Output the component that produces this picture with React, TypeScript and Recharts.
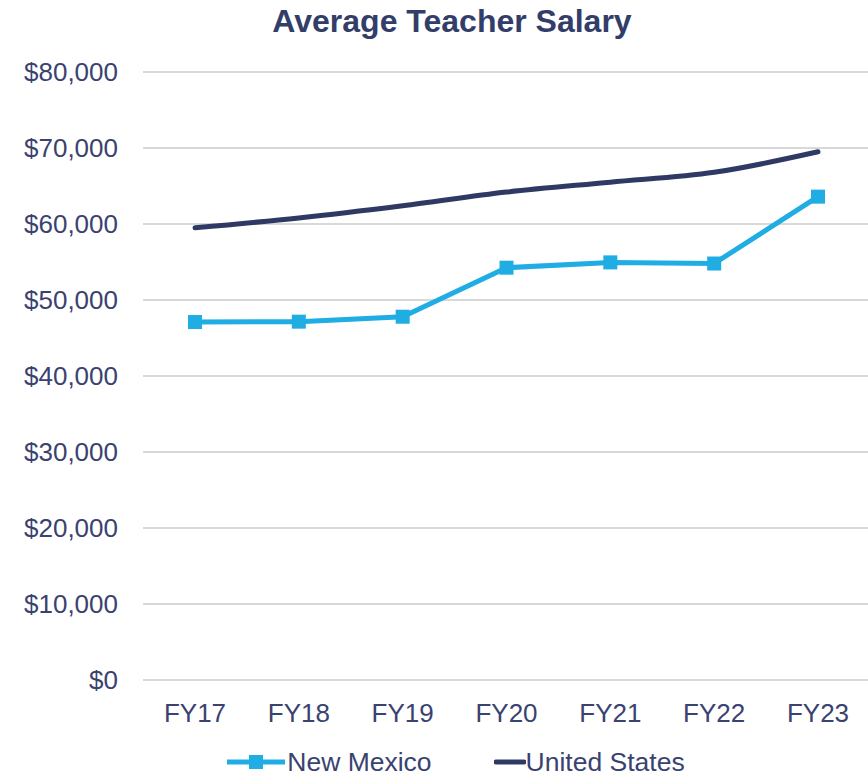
import React from 'react';
import { LineChart, Line, XAxis, YAxis, CartesianGrid, Legend } from 'recharts';

const categories = ['FY17', 'FY18', 'FY19', 'FY20', 'FY21', 'FY22', 'FY23'];
const newMexico = [47100, 47150, 47800, 54250, 54950, 54800, 63600];
const unitedStates = [59500, 60800, 62400, 64200, 65500, 66800, 69500];
const yTicks = [0, 10000, 20000, 30000, 40000, 50000, 60000, 70000, 80000];

const data = categories.map((c, i) => ({ name: c, nm: newMexico[i], us: unitedStates[i] }));

const NM_COLOR = '#1fade4';
const US_COLOR = '#2f3a64';
const TEXT_COLOR = '#3a4270';
const FONT = '"Liberation Sans", Arial, sans-serif';

const fmt = (v: number) => '$' + v.toLocaleString('en-US');

const SquareDot = (props: any) => {
  const { cx, cy } = props;
  if (cx == null || cy == null) return null;
  return <rect x={cx - 7} y={cy - 7} width={14} height={14} fill={NM_COLOR} />;
};

const LegendContent = () => (
  <div style={{ position: 'relative', top: 4, display: 'flex', justifyContent: 'center', alignItems: 'center', height: 40, lineHeight: '30px', fontFamily: FONT, fontSize: 26.5, color: TEXT_COLOR, paddingLeft: 42 }}>
    <svg width={60} height={20} style={{ marginRight: 0 }}>
      <line x1={0} y1={10} x2={58} y2={10} stroke={NM_COLOR} strokeWidth={5} />
      <rect x={22} y={3} width={14} height={14} fill={NM_COLOR} />
    </svg>
    <span style={{ marginRight: 62 }}>New Mexico</span>
    <svg width={32} height={20}>
      <line x1={2} y1={10} x2={30} y2={10} stroke={US_COLOR} strokeWidth={5} strokeLinecap="round" />
    </svg>
    <span>United States</span>
  </div>
);

export default function App() {
  return (
    <div style={{ position: 'absolute', left: 0, top: 0, width: 868, height: 778, background: '#fff', overflow: 'hidden' }}>
      <div style={{ position: 'absolute', left: 0, width: 904, top: 3, textAlign: 'center', fontFamily: FONT, fontWeight: 'bold', fontSize: 32, color: '#323e69' }}>
        Average Teacher Salary
      </div>
      <LineChart width={870} height={778} data={data} margin={{ top: 72, right: 0, left: 0, bottom: 0 }}>
        <CartesianGrid vertical={false} stroke="#d9d9d9" strokeWidth={2} />
        <XAxis
          dataKey="name"
          height={58}
          padding={{ left: 52, right: 52 }}
          tickLine={false}
          tickSize={0}
          tickMargin={24}
          axisLine={{ stroke: '#d9d9d9', strokeWidth: 2 }}
          tick={{ fill: TEXT_COLOR, fontSize: 26, fontFamily: FONT }}
        />
        <YAxis
          width={143}
          domain={[0, 80000]}
          ticks={yTicks}
          tickFormatter={fmt}
          axisLine={false}
          tickLine={false}
          tickSize={0}
          tickMargin={25}
          tick={{ fill: TEXT_COLOR, fontSize: 26, fontFamily: FONT }}
        />
        <Legend verticalAlign="bottom" content={<LegendContent />} />
        <Line type="linear" dataKey="nm" name="New Mexico" stroke={NM_COLOR} strokeWidth={5} dot={<SquareDot />} activeDot={false} isAnimationActive={false} />
        <Line type="monotone" dataKey="us" name="United States" stroke={US_COLOR} strokeWidth={5} strokeLinecap="round" dot={false} activeDot={false} isAnimationActive={false} />
      </LineChart>
    </div>
  );
}
